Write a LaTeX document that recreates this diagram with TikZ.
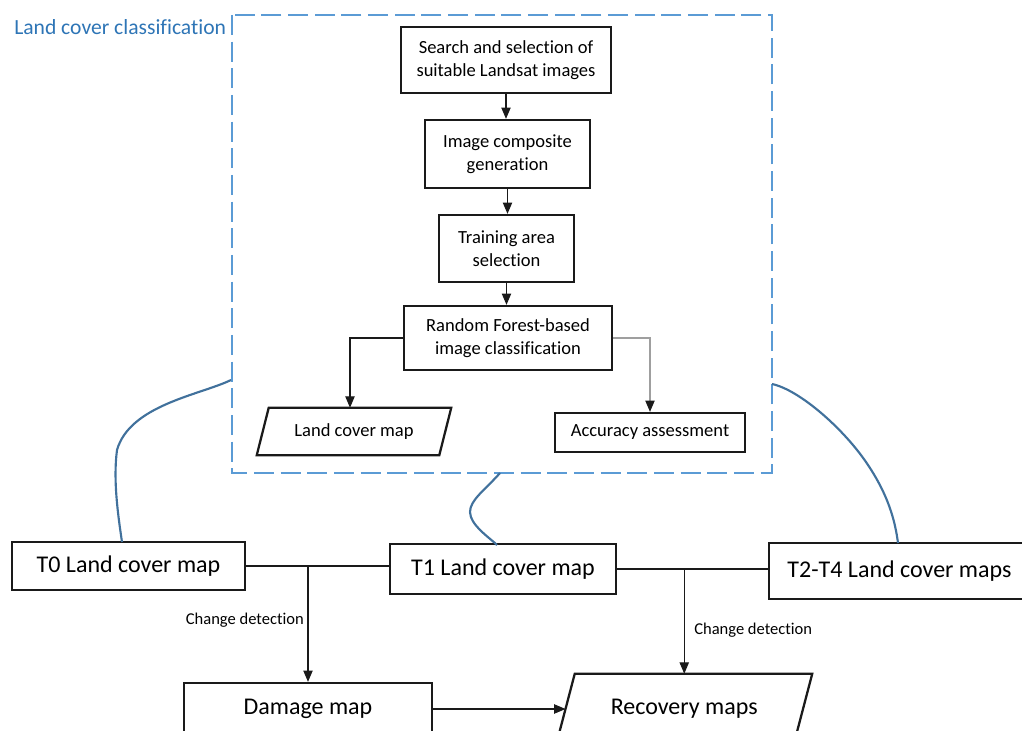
\documentclass[tikz,border=0pt]{standalone}
\usepackage{fontspec}
\setmainfont{Carlito}[Ligatures=NoCommon]
\usetikzlibrary{arrows.meta,calc}
\definecolor{dashblue}{HTML}{5B9BD5}
\definecolor{curveblue}{HTML}{41719C}
\definecolor{titleblue}{HTML}{2E75B6}
\definecolor{boxline}{HTML}{1A1A1A}
\begin{document}
\begin{tikzpicture}[x=0.75pt,y=-0.75pt,
  box/.style={draw=boxline,line width=1.7pt,align=center,inner sep=0pt,font=\fontsize{13.9}{17.6}\selectfont},
  plain/.style={align=center,inner sep=0pt,font=\fontsize{13.9}{17.6}\selectfont},
  bigbox/.style={draw=boxline,line width=1.7pt,align=center,inner sep=0pt,font=\fontsize{18}{22}\selectfont},
  bigplain/.style={align=center,inner sep=0pt,font=\fontsize{18}{22}\selectfont},
  para/.style={draw=boxline,line width=1.7pt},
  conn/.style={draw=boxline,line width=0.8pt},
  arr/.style={conn,-{Triangle[length=8.5pt,width=7pt,color=boxline]}},
  curve/.style={draw=curveblue,line width=1.6pt},
  frame/.style={draw=dashblue,line width=2pt,dash pattern=on 15pt off 5pt},
  lbl/.style={inner sep=0pt,font=\fontsize{12.4}{14}\selectfont},
]
\useasboundingbox (0,0) rectangle (1022,731);
\clip (0,0) rectangle (1022,731);

% classification frame
\draw[frame] (232,15) rectangle (772,473);
\node[anchor=west,text=titleblue,inner sep=0pt,font=\fontsize{16.2}{19}\selectfont] (title) at (14,27) {Land cover classification};

% inner flow
\node[box,minimum width=157.5pt,minimum height=49.5pt] (b1) at (506,60) {Search and selection of\\suitable Landsat images};
\node[box,minimum width=123.75pt,minimum height=51pt] (b2) at (507.5,154) {Image composite\\generation};
\node[box,minimum width=101.25pt,minimum height=50.25pt] (b3) at (506.5,248.5) {Training area\\selection};
\node[box,minimum width=156pt,minimum height=48pt] (b4) at (508,338) {Random Forest-based\\image classification};
\node[plain,minimum width=145.5pt,minimum height=35.25pt] (lcm) at (354,431.5) {Land cover map};
\draw[para] ($(lcm.north west)+(12,0)$) -- (lcm.north east) -- ($(lcm.south east)+(-12,0)$) -- (lcm.south west) -- cycle;
\node[box,minimum width=142.5pt,minimum height=29.25pt] (acc) at (650,432.5) {Accuracy assessment};

\draw[arr] (b1.south) -- (b1.south |- b2.north);
\draw[arr] (b2.south) -- (b2.south |- b3.north);
\draw[arr] (b3.south) -- (b3.south |- b4.north);
\draw[arr] (b4.west) -| ($(lcm.north)+(-4,0)$);
\draw[arr,draw=gray!75] (b4.east) -| (acc.north);

% bottom row
\node[bigbox,minimum width=174.75pt,minimum height=36pt] (T0) at (128.5,566) {T0 Land cover map};
\node[bigbox,minimum width=169.5pt,minimum height=37.5pt] (T1) at (503,569) {T1 Land cover map};
\node[bigbox,minimum width=195.75pt,minimum height=42pt] (T2) at (899.5,571) {T2-T4 Land cover maps};
\node[bigbox,minimum width=186pt,minimum height=39pt] (dmg) at (308,709) {Damage map};
\node[bigplain,minimum width=191.6pt,minimum height=52.5pt] (rec) at (684.25,709) {Recovery maps};
\draw[para] ($(rec.north west)+(18.5,0)$) -- (rec.north east) -- ($(rec.south east)+(-18.5,0)$) -- (rec.south west) -- cycle;

\draw[conn] (T0.east) -- (T0.east -| T1.west);
\draw[conn] (T1.east) -- (T1.east -| T2.west);
\draw[arr] (T0.east -| dmg.north) -- (dmg.north);
\draw[arr] (T1.east -| rec.north) -- (rec.north);
\draw[arr] (dmg.east) -- ($(rec.west)+(9.25,0)$);
\node[lbl,anchor=east] (cd1) at (304,620) {Change detection};
\node[lbl,anchor=west] (cd2) at (694,630) {Change detection};

% blue links
\coordinate (fl) at (231,380);
\coordinate (fb) at (500,473);
\coordinate (fr) at (772,384);
\coordinate (t0top) at (122,542);
\coordinate (t1top) at (497,545);
\coordinate (t2top) at (898,543);
\draw[curve] (fl) .. controls (200,395) and (130,405) .. (117,450) .. controls (113,480) and (118,515) .. (t0top);
\draw[curve] (fb) .. controls (485,490) and (470,500) .. (470,512) .. controls (470,525) and (490,538) .. (t1top);
\draw[curve] (fr) .. controls (800,390) and (845,430) .. (868,465) .. controls (888,495) and (895,520) .. (t2top);
\end{tikzpicture}
\end{document}
